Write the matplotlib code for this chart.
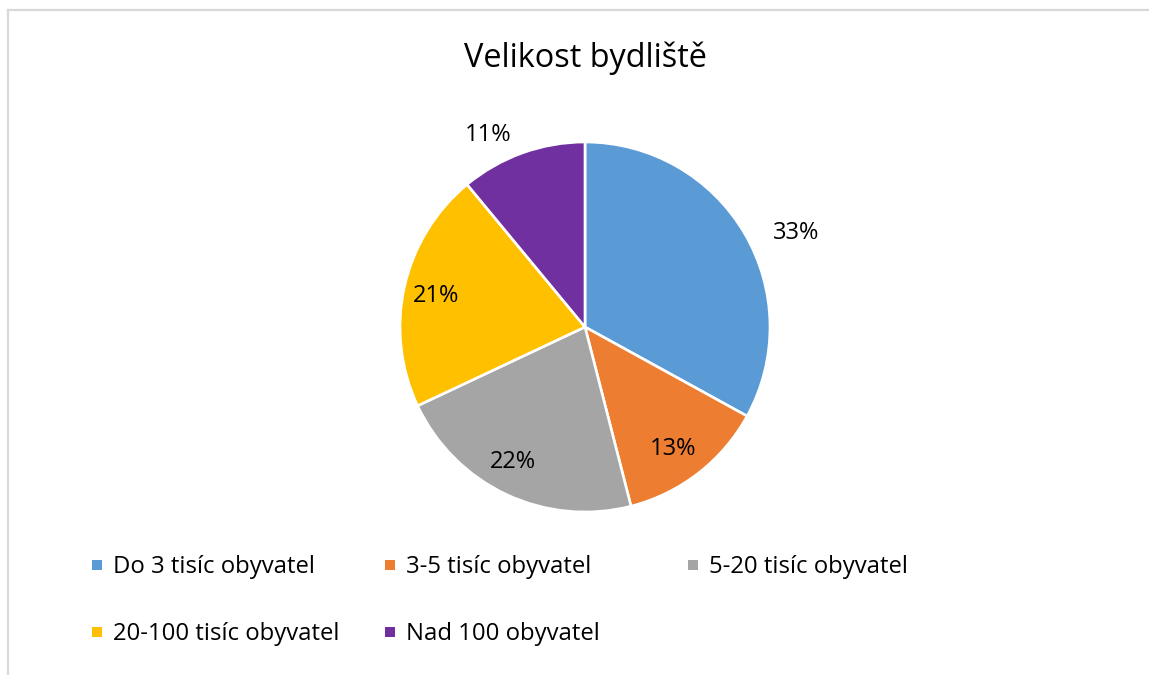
import matplotlib
matplotlib.use("Agg")
import matplotlib.pyplot as plt
from matplotlib.patches import Rectangle
from matplotlib.lines import Line2D
import numpy as np

plt.rcParams['font.family'] = ['Open Sans', 'DejaVu Sans']

# Data
title = "Velikost bydliště"
categories = ["Do 3 tisíc obyvatel", "3-5 tisíc obyvatel", "5-20 tisíc obyvatel",
              "20-100 tisíc obyvatel", "Nad 100 obyvatel"]
shares = [33, 13, 22, 21, 11]
colors = ["#5B9BD5", "#ED7D31", "#A5A5A5", "#FFC000", "#7030A0"]

# Label placement (radius as fraction of pie radius, angular nudge in degrees)
label_radius = [1.25, 0.81, 0.83, 0.82, 1.16]
label_nudge = [-6.5, -2, -3, 1, 7]

W, H = 1149, 675
fig = plt.figure(figsize=(W / 100, H / 100), dpi=100)
fig.patch.set_facecolor("white")

# Chart area frame (top and left edges visible)
fig.add_artist(Line2D([8 / W, 1.0], [1 - 10 / H, 1 - 10 / H], color="#D9D9D9", lw=1.6))
fig.add_artist(Line2D([8 / W, 8 / W], [0, 1 - 10 / H], color="#D9D9D9", lw=1.6))

cx, cy, r = 585, 327, 185
ax = fig.add_axes([(cx - r) / W, (H - cy - r) / H, 2 * r / W, 2 * r / H])
wedges, _ = ax.pie(shares, colors=colors, startangle=90, counterclock=False,
                   radius=1.0,
                   wedgeprops=dict(edgecolor="white", linewidth=1.9))
ax.set_xlim(-1, 1)
ax.set_ylim(-1, 1)
ax.set_aspect("auto")
ax.axis("off")

total = float(sum(shares))
for w, v, rr, nd in zip(wedges, shares, label_radius, label_nudge):
    mid = np.deg2rad((w.theta1 + w.theta2) / 2 + nd)
    ax.text(rr * np.cos(mid), rr * np.sin(mid), f"{round(100 * v / total)}%",
            ha="center", va="center", fontsize=17, color="black", clip_on=False)

fig.text(585 / W, 1 - 58 / H, title, ha="center", va="center", fontsize=23.4, color="black")

# Legend
legend_pos = [(97, 565), (390, 565), (693, 565), (97, 632), (390, 632)]
sq = 10
for (lx, ly), lab, col in zip(legend_pos, categories, colors):
    fig.add_artist(Rectangle(((lx - sq / 2) / W, 1 - (ly + sq / 2) / H), sq / W, sq / H,
                             transform=fig.transFigure, facecolor=col, edgecolor="none"))
    fig.text((lx + 16) / W, 1 - (ly + 2) / H, lab, ha="left", va="center",
             fontsize=17.2, color="black")

fig.savefig("out.png", dpi=100)
